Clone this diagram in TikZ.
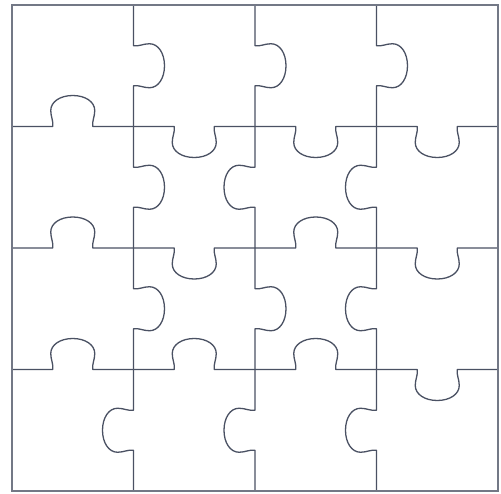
\documentclass[tikz,border=0pt]{standalone}
\definecolor{pzline}{HTML}{4A5163}
\definecolor{pzborder}{HTML}{737886}
\tikzset{
  pz/.style={draw=pzline, line width=1.3pt, line join=round},
  pzframe/.style={draw=pzborder, line width=1.7pt},
}
% tab edge in local coordinates: edge along x from 0 to 121.5, bulge toward +y
\newcommand\pztabpath{(0,0) -- (40.75,0)
  .. controls (41.6,5.5) and (38.75,9.5) .. (38.75,16)
  .. controls (38.75,24.8) and (48.3,31) .. (60.75,31)
  .. controls (73.2,31) and (82.75,24.8) .. (82.75,16)
  .. controls (82.75,9.5) and (79.9,5.5) .. (80.75,0) -- (121.5,0)}
% horizontal edge: left x, y, sign (+1 bulges up)
\newcommand\pzh[3]{\begin{scope}[shift={(#1,#2)}, yscale=#3]\draw[pz] \pztabpath;\end{scope}}
% vertical edge: x, top y, sign (+1 bulges right)
\newcommand\pzv[3]{\begin{scope}[shift={(#1,#2)}, rotate=-90, yscale=#3]\draw[pz] \pztabpath;\end{scope}}
\begin{document}
\begin{tikzpicture}[x=1pt,y=1pt]
\useasboundingbox (0,0) rectangle (501,493);
\fill[white] (0,0) rectangle (501,493);
% vertical interior edges, row by row (top row first)
\pzv{133.5}{488}{1}   \pzv{255}{488}{1}   \pzv{376.5}{488}{1}
\pzv{133.5}{366.5}{1} \pzv{255}{366.5}{-1} \pzv{376.5}{366.5}{-1}
\pzv{133.5}{245}{1}   \pzv{255}{245}{1}   \pzv{376.5}{245}{-1}
\pzv{133.5}{123.5}{-1} \pzv{255}{123.5}{-1} \pzv{376.5}{123.5}{-1}
% horizontal interior edges
\pzh{12}{366.5}{1} \pzh{133.5}{366.5}{-1} \pzh{255}{366.5}{-1} \pzh{376.5}{366.5}{-1}
\pzh{12}{245}{1}   \pzh{133.5}{245}{-1}   \pzh{255}{245}{1}    \pzh{376.5}{245}{-1}
\pzh{12}{123.5}{1} \pzh{133.5}{123.5}{1}  \pzh{255}{123.5}{1}  \pzh{376.5}{123.5}{-1}
% outer frame
\draw[pzframe] (12,2) rectangle (498,488);
\end{tikzpicture}
\end{document}
